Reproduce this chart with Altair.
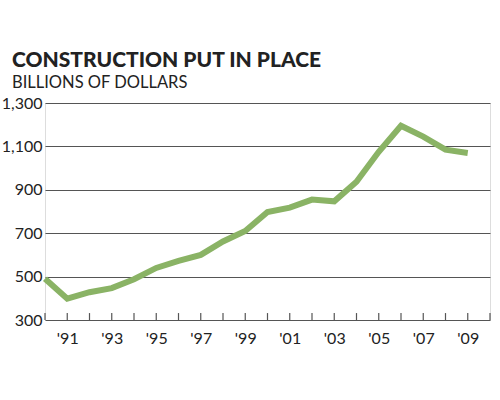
import altair as alt
import pandas as pd

years = list(range(1990, 2010))
values = [490, 398, 428, 447, 488, 540, 572, 600, 662, 710,
          798, 818, 855, 847, 937, 1075, 1195, 1145, 1085, 1070]
tick_years = list(range(1990, 2011))
label_years = list(range(1991, 2010, 2))
y_ticks = [300, 500, 700, 900, 1100, 1300]

df = pd.DataFrame({"year": years, "value": values})
ticks_df = pd.DataFrame({"year": tick_years, "y0": [300] * len(tick_years), "y1": [332] * len(tick_years)})

x_scale = alt.Scale(domain=[1990, 2010], nice=False, zero=False)
y_scale = alt.Scale(domain=[300, 1300], nice=False, zero=False)

line = alt.Chart(df).mark_line(color="#8ab365", strokeWidth=6, strokeJoin="miter", strokeCap="butt").encode(
    x=alt.X("year:Q", scale=x_scale, axis=alt.Axis(
        values=label_years, labelExpr="\"'\" + substring(toString(datum.value), 2, 4)",
        ticks=False, domain=False, grid=False, title=None, labelPadding=10,
        labelFontSize=16, labelColor="#222", labelFont="Lato")),
    y=alt.Y("value:Q", scale=y_scale, axis=alt.Axis(
        values=y_ticks, format=",.0f", grid=True, gridColor="#555", gridWidth=1.2,
        ticks=False, domain=False, title=None, labelPadding=3, labelFontSize=16,
        labelColor="#222", labelFont="Lato")),
)

tick_rules = alt.Chart(ticks_df).mark_rule(color="#555", strokeWidth=1.2).encode(
    x=alt.X("year:Q", scale=x_scale),
    y=alt.Y("y0:Q", scale=y_scale),
    y2="y1:Q",
)

chart = alt.layer(tick_rules, line).properties(
    width=445, height=217,
    padding={"left": 45, "top": 103, "right": 10, "bottom": 80},
    autosize=alt.AutoSizeParams(type="none"),
    title=alt.TitleParams(
        text="CONSTRUCTION PUT IN PLACE",
        subtitle="BILLIONS OF DOLLARS",
        anchor="start", frame="group", dx=-33, offset=4,
        font="Lato", fontSize=21, fontWeight=900, color="#222",
        subtitleFont="Lato", subtitleFontSize=16.5, subtitleColor="#222", subtitlePadding=4,
    ),
).configure_view(stroke=None).configure(background="white")

chart.save("out.html", embed_options={"renderer": "svg", "actions": False})
